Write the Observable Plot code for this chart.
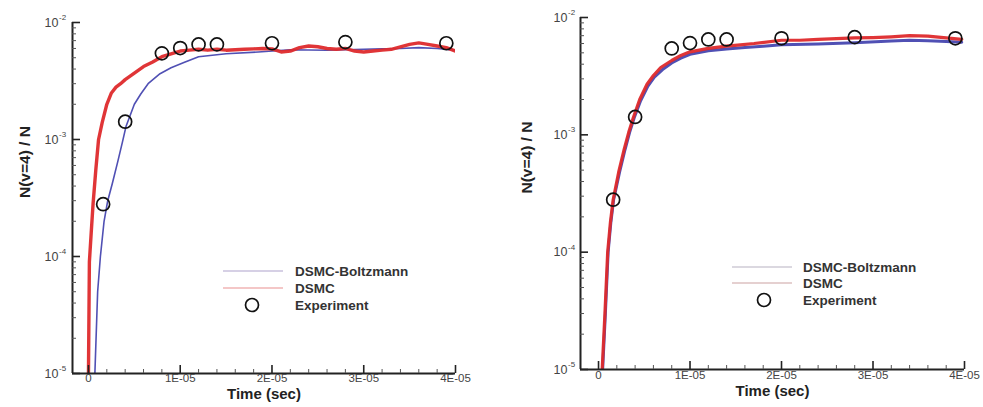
<!DOCTYPE html>
<html><head><meta charset="utf-8">
<script src="https://cdn.jsdelivr.net/npm/d3@7"></script>
<script src="https://cdn.jsdelivr.net/npm/@observablehq/plot@0.6"></script>
<style>
html,body{margin:0;padding:0;background:#fff;}
#wrap{position:relative;width:983px;height:407px;display:flex;}
#wrap > svg{display:block;}
#legend{position:absolute;left:0;top:0;pointer-events:none;}
</style></head><body><div id="wrap"></div>
<script>
// ---------- data ----------
const seriesNames = ["DSMC-Boltzmann", "DSMC", "Experiment"];
const xTickValues = [0, 1e-5, 2e-5, 3e-5, 4e-5];
const xTickLabels = ["0", "1E-05", "2E-05", "3E-05", "4E-05"];
const yTickValues = [1e-5, 1e-4, 1e-3, 1e-2];
const yTickExps = ["-5", "-4", "-3", "-2"];

const expTime  = [1.6e-6, 4.0e-6, 8.0e-6, 1.0e-5, 1.2e-5, 1.4e-5, 2.0e-5, 2.8e-5, 3.9e-5];
const expValue = [2.8e-4, 1.42e-3, 5.45e-3, 6.05e-3, 6.5e-3, 6.5e-3, 6.65e-3, 6.8e-3, 6.65e-3];

// left panel, DSMC (red)
const leftRedTime = [0, 1e-7, 3e-7, 5e-7, 8e-7, 1.1e-6, 1.5e-6, 2e-6, 2.5e-6, 3e-6, 3.5e-6, 4e-6, 5e-6, 6e-6, 7e-6, 8e-6, 9e-6,
  1e-5, 1.1e-5, 1.2e-5, 1.3e-5, 1.4e-5, 1.5e-5, 1.6e-5, 1.7e-5, 1.8e-5, 1.9e-5, 2.0e-5, 2.1e-5, 2.2e-5, 2.3e-5, 2.4e-5,
  2.5e-5, 2.6e-5, 2.7e-5, 2.8e-5, 2.9e-5, 3.0e-5, 3.1e-5, 3.2e-5, 3.3e-5, 3.4e-5, 3.5e-5, 3.6e-5, 3.7e-5, 3.8e-5, 3.9e-5, 4.0e-5, 4.02e-5];
const leftRedValue = [1e-5, 9e-5, 1.6e-4, 2.8e-4, 5.5e-4, 1.0e-3, 1.4e-3, 2.0e-3, 2.5e-3, 2.8e-3, 3.0e-3, 3.25e-3, 3.7e-3, 4.2e-3, 4.6e-3, 5.1e-3, 5.4e-3,
  5.7e-3, 5.8e-3, 5.9e-3, 5.8e-3, 5.9e-3, 5.8e-3, 5.85e-3, 5.9e-3, 5.95e-3, 6.0e-3, 5.95e-3, 5.6e-3, 5.7e-3, 6.1e-3, 6.3e-3,
  6.2e-3, 6.0e-3, 5.9e-3, 6.0e-3, 5.7e-3, 5.6e-3, 5.7e-3, 5.8e-3, 5.9e-3, 6.2e-3, 6.5e-3, 6.7e-3, 6.5e-3, 6.3e-3, 6.1e-3, 5.7e-3, 5.6e-3];

// left panel, DSMC-Boltzmann (blue)
const leftBlueTime = [7e-7, 1.0e-6, 1.3e-6, 1.7e-6, 2.1e-6, 2.6e-6, 3.2e-6, 3.7e-6, 4.1e-6, 5e-6, 5.7e-6, 6.5e-6, 7.8e-6, 9e-6,
  1.04e-5, 1.2e-5, 1.5e-5, 1.85e-5, 2.2e-5, 2.6e-5, 2.8e-5, 3.0e-5, 3.2e-5, 3.4e-5, 3.6e-5, 3.8e-5, 4.0e-5];
const leftBlueValue = [1e-5, 5e-5, 1.0e-4, 2.0e-4, 3.0e-4, 4.2e-4, 6.5e-4, 9.5e-4, 1.3e-3, 2.0e-3, 2.45e-3, 3.0e-3, 3.65e-3, 4.1e-3,
  4.55e-3, 5.1e-3, 5.4e-3, 5.6e-3, 5.85e-3, 5.8e-3, 5.85e-3, 5.9e-3, 5.95e-3, 6.0e-3, 6.1e-3, 6.0e-3, 5.8e-3];

// right panel, DSMC (red)
const rightRedTime = [4e-7, 7e-7, 1.0e-6, 1.3e-6, 1.6e-6, 2.2e-6, 2.8e-6, 3.3e-6, 3.8e-6, 4.5e-6, 5.3e-6, 6.0e-6, 6.8e-6, 8e-6, 9e-6,
  1.0e-5, 1.2e-5, 1.4e-5, 1.55e-5, 1.7e-5, 2.0e-5, 2.2e-5, 2.4e-5, 2.6e-5, 2.8e-5, 3.0e-5, 3.2e-5, 3.4e-5, 3.6e-5, 3.8e-5, 3.97e-5];
const rightRedValue = [1e-5, 3e-5, 1.0e-4, 1.8e-4, 2.8e-4, 4.8e-4, 7.5e-4, 1.05e-3, 1.4e-3, 2.0e-3, 2.7e-3, 3.2e-3, 3.75e-3, 4.3e-3, 4.75e-3,
  5.1e-3, 5.45e-3, 5.7e-3, 5.85e-3, 6.0e-3, 6.4e-3, 6.4e-3, 6.5e-3, 6.6e-3, 6.7e-3, 6.75e-3, 6.85e-3, 7.0e-3, 6.95e-3, 6.7e-3, 6.5e-3];

// right panel, DSMC-Boltzmann (blue)
const rightBlueTime = [4.5e-7, 7.5e-7, 1.05e-6, 1.35e-6, 1.65e-6, 2.3e-6, 2.9e-6, 3.4e-6, 3.9e-6, 4.6e-6, 5.4e-6, 6.1e-6, 7e-6, 8e-6, 9e-6,
  1.0e-5, 1.2e-5, 1.4e-5, 1.6e-5, 1.8e-5, 2.0e-5, 2.4e-5, 2.8e-5, 3.2e-5, 3.4e-5, 3.6e-5, 3.8e-5, 3.97e-5];
const rightBlueValue = [1e-5, 3e-5, 1e-4, 1.8e-4, 2.8e-4, 4.8e-4, 7.5e-4, 1.05e-3, 1.4e-3, 1.95e-3, 2.6e-3, 3.1e-3, 3.6e-3, 4.1e-3, 4.5e-3,
  4.85e-3, 5.2e-3, 5.4e-3, 5.55e-3, 5.7e-3, 5.85e-3, 5.95e-3, 6.1e-3, 6.3e-3, 6.4e-3, 6.35e-3, 6.25e-3, 6.15e-3];

// ---------- helpers ----------
const RED = "#de2a2c", BLUE = "#5050b4", AX = "#222";
const FONT = "Liberation Sans, Arial, Helvetica, sans-serif";
const pts = (ts, vs) => ts.map((t, i) => ({t, v: vs[i]}));
const expData = pts(expTime, expValue);
const xMinor = d3.range(2e-6, 4e-5, 2e-6).filter(v => Math.abs(v / 1e-5 - Math.round(v / 1e-5)) > 1e-6);
const yMinor = yTickValues.slice(0, -1).flatMap(d => d3.range(2, 10).map(k => k * d));

function panel(cfg) {
  const plotW = cfg.width - cfg.mL - cfg.mR;
  const plotH = cfg.height - cfg.mT - cfg.mB;
  return Plot.plot({
    width: cfg.width, height: cfg.height,
    marginLeft: cfg.mL, marginRight: cfg.mR, marginTop: cfg.mT, marginBottom: cfg.mB,
    style: {fontFamily: FONT, background: "#fff"},
    x: {domain: cfg.xDomain, axis: null},
    y: {type: "log", domain: [1e-5, 1e-2], axis: null},
    marks: [
      Plot.line(pts(cfg.blueT, cfg.blueV), {x: "t", y: "v", stroke: BLUE, strokeWidth: cfg.blueW, clip: true}),
      Plot.line(pts(cfg.redT, cfg.redV), {x: "t", y: "v", stroke: RED, strokeWidth: cfg.redW, strokeOpacity: 0.95, clip: true}),
      Plot.dot(expData, {x: "t", y: "v", r: 6.5, stroke: "#111", strokeWidth: 1.7, fill: "none"}),
      // axis lines
      Plot.ruleX([cfg.xDomain[0]], {stroke: AX, strokeWidth: 2}),
      Plot.ruleY([1e-5], {stroke: AX, strokeWidth: 2}),
      // inward ticks
      Plot.tickX(xTickValues, {x: d => d, insetTop: plotH - 8, stroke: AX, strokeWidth: 1.6}),
      Plot.tickX(xMinor, {x: d => d, insetTop: plotH - 4, stroke: "#555", strokeWidth: 1}),
      Plot.tickY(yTickValues, {y: d => d, insetRight: plotW - 8, stroke: AX, strokeWidth: 1.6}),
      Plot.tickY(yMinor, {y: d => d, insetRight: plotW - 4, stroke: "#555", strokeWidth: 1}),
      // tick labels
      Plot.text(xTickValues, {x: d => d, text: (d, i) => xTickLabels[i], frameAnchor: "bottom", dy: cfg.xLabDy, fontSize: 11.5, fill: "#444"}),
      Plot.text(yTickValues, {y: d => d, text: () => "10", frameAnchor: "left", dx: cfg.yLabDx, textAnchor: "end", fontSize: 12.5, fill: "#444"}),
      Plot.text(yTickValues, {y: d => d, text: (d, i) => yTickExps[i], frameAnchor: "left", dx: cfg.yLabDx + 0.5, dy: -5, textAnchor: "start", fontSize: 8, fill: "#444"}),
      // axis titles
      Plot.text(["Time (sec)"], {text: d => d, frameAnchor: "bottom", dy: cfg.titleDy, fontSize: 15, fontWeight: "bold", fill: "#222"}),
      Plot.text(["N(v=4) / N"], {text: d => d, frameAnchor: "left", dx: cfg.yTitleDx, rotate: -90, fontSize: 15.5, fontWeight: "bold", fill: "#222"})
    ]
  });
}

const wrap = document.getElementById("wrap");
wrap.appendChild(panel({
  width: 491, height: 407, mL: 72, mR: 36, mT: 22, mB: 34,
  xDomain: [-1.74e-6, 4e-5],
  redT: leftRedTime, redV: leftRedValue, blueT: leftBlueTime, blueV: leftBlueValue,
  redW: 3.4, blueW: 1.6, xLabDy: 8.5, yLabDx: -14, titleDy: 25.5, yTitleDx: -47
}));
wrap.appendChild(panel({
  width: 492, height: 407, mL: 89, mR: 19, mT: 17, mB: 38,
  xDomain: [-1.97e-6, 4e-5],
  redT: rightRedTime, redV: rightRedValue, blueT: rightBlueTime, blueV: rightBlueValue,
  redW: 3.2, blueW: 3, xLabDy: 9.5, yLabDx: -13, titleDy: 26, yTitleDx: -53
}));

// ---------- legends (inside each panel) ----------
const legends = [
  {x0: 223, x1: 283, y: [271, 288, 305], cx: 252, tx: 295, c: ["#c9c0dc", "#f0b4b4"]},
  {x0: 732, x1: 792, y: [267, 283, 300], cx: 764, tx: 803, c: ["#cfcbd6", "#dcc0c0"]}
];
const leg = d3.select(wrap).append("svg").attr("id", "legend").attr("width", 983).attr("height", 407)
  .style("font-family", FONT);
legends.forEach(L => {
  [0, 1].forEach(k => leg.append("line").attr("x1", L.x0).attr("x2", L.x1).attr("y1", L.y[k]).attr("y2", L.y[k])
    .attr("stroke", L.c[k]).attr("stroke-width", 1.3));
  leg.append("circle").attr("cx", L.cx).attr("cy", L.y[2]).attr("r", 6.5).attr("fill", "none")
    .attr("stroke", "#111").attr("stroke-width", 1.7);
  seriesNames.forEach((s, k) => leg.append("text").attr("x", L.tx).attr("y", L.y[k]).attr("dy", "0.35em")
    .attr("font-size", 13.5).attr("font-weight", "bold").attr("fill", "#333").text(s));
});
</script></body></html>
